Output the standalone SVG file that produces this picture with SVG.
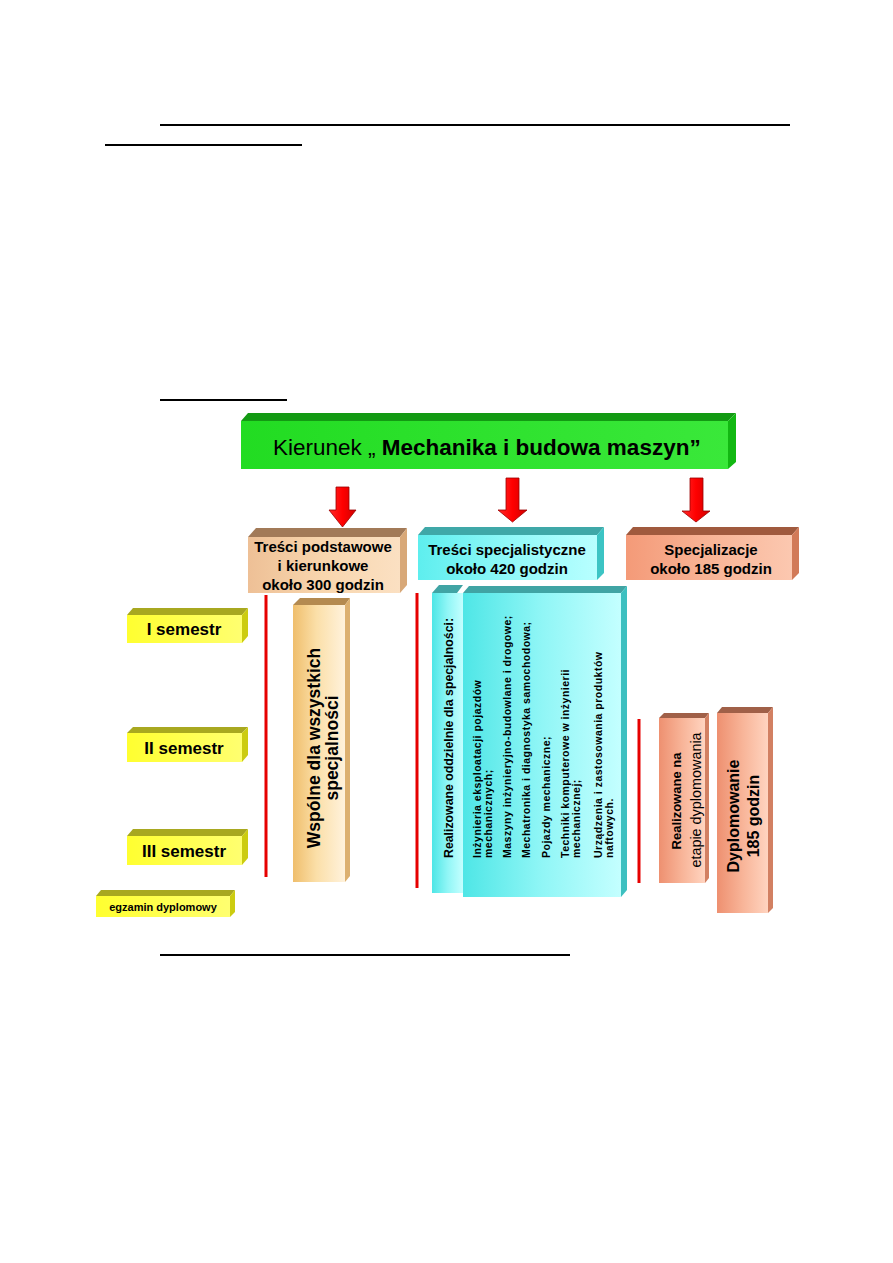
<svg xmlns="http://www.w3.org/2000/svg" width="893" height="1263" viewBox="0 0 893 1263">
<defs>
<style>
text{font-family:"Liberation Sans",Arial,sans-serif;fill:#000}
.b{font-weight:bold}
.rule{stroke:#000;stroke-width:2}
.bar{stroke:#e60000;stroke-width:3}
.arrow{fill:url(#gRed);stroke:#9a0000;stroke-width:0.8}
.hd{font-size:15px;font-weight:bold;text-anchor:middle}
.sem{font-size:17px;font-weight:bold;text-anchor:middle}
.li{font-size:10.5px;font-weight:bold;letter-spacing:0.5px}
</style>
<linearGradient id="gGreen" x1="0" y1="0" x2="1" y2="0"><stop offset="0" stop-color="#22dc22"/><stop offset="1" stop-color="#3ae83a"/></linearGradient>
<linearGradient id="gPeach" x1="0" y1="0" x2="1" y2="0"><stop offset="0" stop-color="#eec096"/><stop offset="0.5" stop-color="#f8d6ae"/><stop offset="1" stop-color="#fbe0c2"/></linearGradient>
<linearGradient id="gCyan" x1="0" y1="0" x2="1" y2="0"><stop offset="0" stop-color="#5eeeee"/><stop offset="0.5" stop-color="#8ff8f8"/><stop offset="1" stop-color="#b8ffff"/></linearGradient>
<linearGradient id="gSalmon" x1="0" y1="0" x2="1" y2="0"><stop offset="0" stop-color="#f49a78"/><stop offset="0.5" stop-color="#f8b496"/><stop offset="1" stop-color="#fcc8b0"/></linearGradient>
<linearGradient id="gYellow" x1="0" y1="0" x2="1" y2="0"><stop offset="0" stop-color="#ffff30"/><stop offset="1" stop-color="#ffff70"/></linearGradient>
<linearGradient id="gCream" x1="0" y1="0" x2="1" y2="0"><stop offset="0" stop-color="#efbe6c"/><stop offset="0.45" stop-color="#fbdfa8"/><stop offset="1" stop-color="#fff2dc"/></linearGradient>
<linearGradient id="gCyanV" x1="0" y1="0" x2="1" y2="0"><stop offset="0" stop-color="#4ee6e6"/><stop offset="0.5" stop-color="#90f6f6"/><stop offset="1" stop-color="#c4ffff"/></linearGradient>
<linearGradient id="gSalmonV" x1="0" y1="0" x2="1" y2="0"><stop offset="0" stop-color="#ee9070"/><stop offset="0.5" stop-color="#f8b498"/><stop offset="1" stop-color="#ffd4c0"/></linearGradient>
<linearGradient id="gRed" x1="0" y1="0" x2="1" y2="0"><stop offset="0" stop-color="#ff2a2a"/><stop offset="0.5" stop-color="#ff0000"/><stop offset="1" stop-color="#d00000"/></linearGradient>
</defs>
<rect width="893" height="1263" fill="#fff"/>

<g id="rules">
<line class="rule" x1="160" y1="125" x2="790" y2="125"/>
<line class="rule" x1="105" y1="145" x2="302" y2="145"/>
<line class="rule" x1="160" y1="400" x2="287" y2="400"/>
<line class="rule" x1="160" y1="955" x2="570" y2="955"/>
</g>

<g id="header">
<polygon points="241,421 248,413 736,413 728,421" fill="#139a13"/>
<polygon points="728,421 736,413 736,462 728,469" fill="#12b812"/>
<rect x="241" y="421" width="487" height="48" fill="url(#gGreen)"/>
<text x="273" y="455" font-size="22.5">Kierunek „ <tspan class="b">Mechanika i budowa maszyn”</tspan></text>
</g>

<g id="connectors">
<path class="arrow" d="M336,487 H349 V510 H356 L342.5,527 L329,510 H336 Z"/>
<path class="arrow" d="M506,478 H519 V510 H527 L512.5,522 L498,510 H506 Z"/>
<path class="arrow" d="M690,478 H703 V511 H710 L696,522 L682,511 H690 Z"/>
</g>

<g id="box-podstawowe">
<polygon points="248,537 256,528 407,528 400,537" fill="#a27a58"/>
<polygon points="400,537 407,528 407,585 400,593" fill="#d8a878"/>
<rect x="248" y="537" width="152" height="56" fill="url(#gPeach)"/>
<text class="hd" x="323" y="552" font-size="15.5">Treści podstawowe</text>
<text class="hd" x="323" y="571" font-size="15.5">i kierunkowe</text>
<text class="hd" x="323" y="590" font-size="15.5">około 300 godzin</text>
</g>

<g id="box-specjalistyczne">
<polygon points="418,535 425,527 604,527 597,535" fill="#3fa8a8"/>
<polygon points="597,535 604,527 604,573 597,580" fill="#3cc4c4"/>
<rect x="418" y="535" width="179" height="45" fill="url(#gCyan)"/>
<text class="hd" x="507" y="555">Treści specjalistyczne</text>
<text class="hd" x="507" y="574">około 420 godzin</text>
</g>

<g id="box-specjalizacje">
<polygon points="626,535 633,527 799,527 792,535" fill="#a05a3e"/>
<polygon points="792,535 799,527 799,573 792,580" fill="#d27a58"/>
<rect x="626" y="535" width="166" height="45" fill="url(#gSalmon)"/>
<text class="hd" x="711" y="555">Specjalizacje</text>
<text class="hd" x="711" y="574">około 185 godzin</text>
</g>

<g id="bars">
<line class="bar" x1="266" y1="595" x2="266" y2="877"/>
<line class="bar" x1="417" y1="593" x2="417" y2="888"/>
<line class="bar" x1="639" y1="719" x2="639" y2="883"/>
</g>

<g id="sem-1">
<polygon points="127,615 133,608 248,608 242,615" fill="#a8a820"/>
<polygon points="242,615 248,608 248,636 242,643" fill="#cccc10"/>
<rect x="127" y="615" width="115" height="28" fill="url(#gYellow)"/>
<text class="sem" x="184" y="635">I semestr</text>
</g>
<g id="sem-2">
<polygon points="127,733 133,727 248,727 242,733" fill="#a8a820"/>
<polygon points="242,733 248,727 248,755 242,762" fill="#cccc10"/>
<rect x="127" y="733" width="115" height="29" fill="url(#gYellow)"/>
<text class="sem" x="184" y="754">II semestr</text>
</g>
<g id="sem-3">
<polygon points="127,836 133,829 248,829 242,836" fill="#a8a820"/>
<polygon points="242,836 248,829 248,858 242,865" fill="#cccc10"/>
<rect x="127" y="836" width="115" height="29" fill="url(#gYellow)"/>
<text class="sem" x="184" y="857">III semestr</text>
</g>
<g id="egzamin">
<polygon points="96,896 101,890 235,890 230,896" fill="#a8a820"/>
<polygon points="230,896 235,890 235,912 230,917" fill="#cccc10"/>
<rect x="96" y="896" width="134" height="21" fill="url(#gYellow)"/>
<text x="163" y="911" font-size="11" font-weight="bold" text-anchor="middle">egzamin dyplomowy</text>
</g>

<g id="box-wspolne">
<polygon points="293,605 300,598 350,598 345,605" fill="#b48a50"/>
<polygon points="345,605 350,598 350,876 345,882" fill="#dcb070"/>
<rect x="293" y="605" width="52" height="277" fill="url(#gCream)"/>
<text transform="translate(320,748) rotate(-90)" font-size="17.5" font-weight="bold" text-anchor="middle">Wspólne dla wszystkich</text>
<text transform="translate(338,748) rotate(-90)" font-size="17.5" font-weight="bold" text-anchor="middle">specjalności</text>
</g>

<g id="box-oddzielnie">
<polygon points="432,593 439,585 463,585 457,593" fill="#40a4a4"/>
<rect x="432" y="593" width="31" height="300" fill="url(#gCyanV)"/>
<text transform="translate(453,858) rotate(-90)" font-size="12.5" font-weight="bold" textLength="240" lengthAdjust="spacingAndGlyphs">Realizowane oddzielnie dla specjalności:</text>
</g>

<g id="box-lista">
<polygon points="463,593 469,586 627,586 621,593" fill="#40a4a4"/>
<polygon points="621,593 627,586 627,890 621,897" fill="#3cc0c0"/>
<rect x="463" y="593" width="158" height="304" fill="url(#gCyanV)"/>
<text class="li" transform="translate(481,858) rotate(-90)">Inżynieria eksploatacji pojazdów</text>
<text class="li" transform="translate(492,858) rotate(-90)">mechanicznych;</text>
<text class="li" transform="translate(511,858) rotate(-90)">Maszyny inżynieryjno-budowlane i drogowe;</text>
<text class="li" transform="translate(530,858) rotate(-90)">Mechatronika i diagnostyka samochodowa;</text>
<text class="li" transform="translate(550,858) rotate(-90)">Pojazdy mechaniczne;</text>
<text class="li" transform="translate(569,858) rotate(-90)">Techniki komputerowe w inżynierii</text>
<text class="li" transform="translate(580,858) rotate(-90)">mechanicznej;</text>
<text class="li" transform="translate(602,858) rotate(-90)">Urządzenia i zastosowania produktów</text>
<text class="li" transform="translate(613,858) rotate(-90)">naftowych.</text>
</g>

<g id="box-etap">
<polygon points="659,718 664,713 709,713 705,718" fill="#a06048"/>
<polygon points="705,718 709,713 709,878 705,883" fill="#d28062"/>
<rect x="659" y="718" width="46" height="165" fill="url(#gSalmonV)"/>
<text transform="translate(681,801) rotate(-90)" font-size="13" font-weight="bold" text-anchor="middle">Realizowane na</text>
<text transform="translate(701,800) rotate(-90)" font-size="14.4" text-anchor="middle">etapie dyplomowania</text>
</g>

<g id="box-dyplomowanie">
<polygon points="717,713 722,707 773,707 768,713" fill="#a06048"/>
<polygon points="768,713 773,707 773,908 768,913" fill="#d28062"/>
<rect x="717" y="713" width="51" height="200" fill="url(#gSalmonV)"/>
<text transform="translate(739,816) rotate(-90)" font-size="16" font-weight="bold" text-anchor="middle">Dyplomowanie</text>
<text transform="translate(759,816) rotate(-90)" font-size="16" font-weight="bold" text-anchor="middle">185 godzin</text>
</g>
</svg>
